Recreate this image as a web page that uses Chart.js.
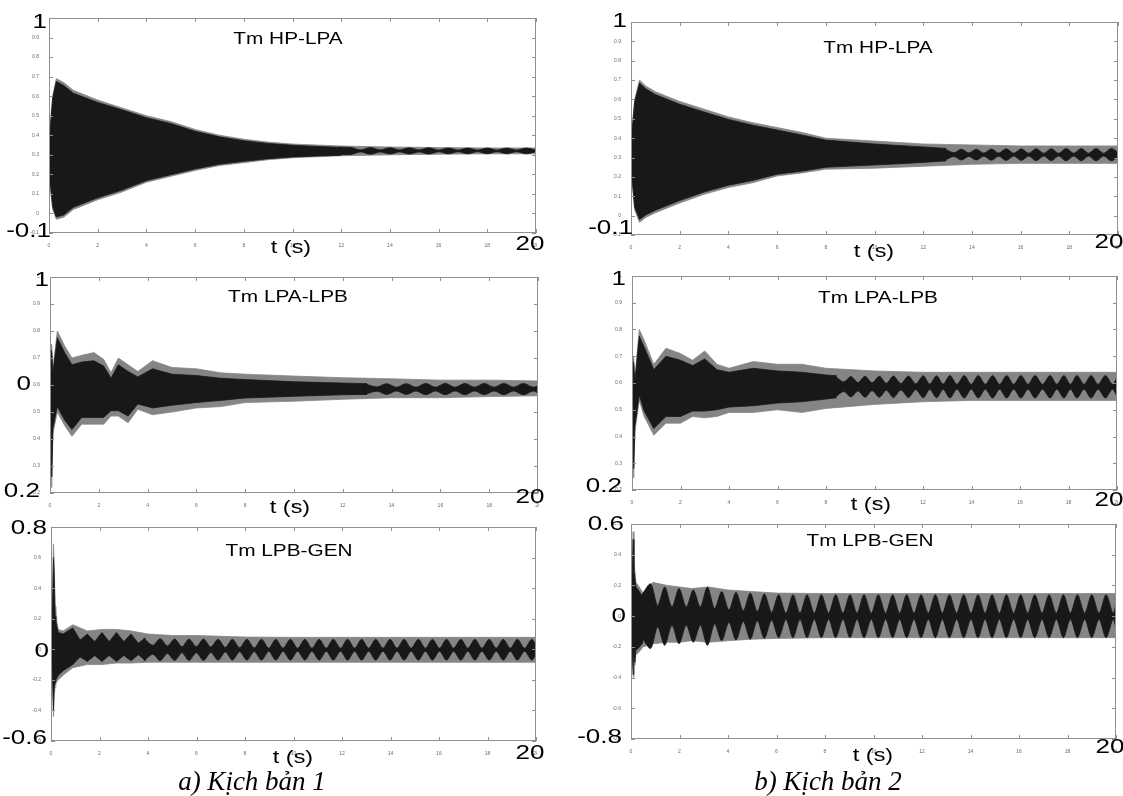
<!DOCTYPE html>
<html><head><meta charset="utf-8"><title>Tm</title>
<script src="https://cdn.jsdelivr.net/npm/chart.js@4.4.1/dist/chart.umd.min.js"></script>
<style>
html,body{margin:0;padding:0;background:#fff;}
body{width:1123px;height:796px;position:relative;overflow:hidden;font-family:"Liberation Sans",Arial,sans-serif;}
.box{position:absolute;}
.t{position:absolute;white-space:nowrap;line-height:1;color:#000;}
.cap{font-family:"Liberation Serif","Times New Roman",serif;font-style:italic;}
</style></head><body>
<script>
// ---------- shared axis ----------
const xMin = 0, xMax = 20, xStep = 2;

// ---------- Panel 1 : Tm HP-LPA, scenario 1 ----------
const p1EnvT  = [0, 0.05, 0.15, 0.3, 0.6, 1, 2, 3, 4, 5, 6, 7, 8, 9, 10, 12, 14, 16, 18, 20];
const p1EnvUp = [0.42, 0.45, 0.6, 0.69, 0.67, 0.63, 0.58, 0.54, 0.50, 0.47, 0.43, 0.40, 0.38, 0.365, 0.355, 0.345, 0.34, 0.337, 0.335, 0.335];
const p1EnvLo = [0.16, 0.14, 0.02, -0.03, -0.02, 0.02, 0.07, 0.11, 0.16, 0.19, 0.22, 0.245, 0.26, 0.275, 0.285, 0.295, 0.30, 0.303, 0.305, 0.305];
const p1CoreT  = [0, 0.05, 0.15, 0.3, 0.6, 1, 2, 3, 4, 5, 6, 7, 8, 9, 10, 11, 12];
const p1CoreUp = [0.41, 0.43, 0.59, 0.675, 0.655, 0.615, 0.568, 0.53, 0.49, 0.46, 0.42, 0.392, 0.372, 0.358, 0.349, 0.343, 0.338];
const p1CoreLo = [0.17, 0.16, 0.035, -0.018, -0.008, 0.032, 0.08, 0.12, 0.168, 0.198, 0.228, 0.252, 0.267, 0.28, 0.289, 0.294, 0.298];
const p1BeadMid = 0.32;
const p1BeadT = [11.9, 12.4, 12.8, 13.2, 13.6, 14.0, 14.4, 14.8, 15.2, 15.6, 16.0, 16.4, 16.8, 17.2, 17.6, 18.0, 18.4, 18.8, 19.2, 19.6, 20.0];
const p1BeadA = [0.019, 0.018, 0.005, 0.017, 0.005, 0.016, 0.005, 0.016, 0.005, 0.016, 0.004, 0.015, 0.004, 0.015, 0.004, 0.015, 0.004, 0.015, 0.004, 0.015, 0.004];

// ---------- Panel 2 : Tm HP-LPA, scenario 2 ----------
const p2EnvT  = [0, 0.05, 0.15, 0.35, 0.6, 1, 2, 3, 4, 5, 6, 7, 8, 10, 12, 14, 16, 18, 20];
const p2EnvUp = [0.44, 0.46, 0.6, 0.70, 0.67, 0.64, 0.59, 0.55, 0.51, 0.48, 0.455, 0.43, 0.40, 0.385, 0.37, 0.365, 0.36, 0.36, 0.36];
const p2EnvLo = [0.2, 0.17, 0.03, -0.035, -0.01, 0.015, 0.065, 0.11, 0.145, 0.17, 0.205, 0.22, 0.24, 0.245, 0.255, 0.265, 0.27, 0.27, 0.27];
const p2CoreT  = [0, 0.05, 0.15, 0.35, 0.6, 1, 2, 3, 4, 5, 6, 7, 8, 9, 10, 11, 12, 12.95];
const p2CoreUp = [0.43, 0.445, 0.585, 0.685, 0.655, 0.625, 0.575, 0.535, 0.497, 0.467, 0.442, 0.417, 0.39, 0.38, 0.37, 0.362, 0.355, 0.347];
const p2CoreLo = [0.21, 0.185, 0.045, -0.02, 0.003, 0.028, 0.078, 0.122, 0.157, 0.182, 0.214, 0.229, 0.25, 0.256, 0.262, 0.268, 0.275, 0.283];
const p2BeadMid = 0.315;
const p2BeadT = [12.85, 13.26, 13.57, 13.87, 14.18, 14.49, 14.8, 15.1, 15.41, 15.72, 16.03, 16.33,
                 16.64, 16.95, 17.26, 17.56, 17.87, 18.18, 18.49, 18.79, 19.1, 19.41, 19.72, 20.0];
const p2BeadA = [0.032, 0.01, 0.028, 0.009, 0.028, 0.008, 0.029, 0.008, 0.03, 0.007, 0.03, 0.007,
                 0.031, 0.007, 0.031, 0.007, 0.032, 0.007, 0.032, 0.007, 0.032, 0.007, 0.032, 0.012];

// ---------- Panel 3 : Tm LPA-LPB, scenario 1 ----------
const p3EnvT  = [0, 0.04, 0.07, 0.12, 0.3, 0.6, 0.9, 1.3, 1.8, 2.2, 2.5, 2.8, 3.2, 3.6, 4.2, 5, 6, 7, 8, 10, 12, 14, 16, 18, 20];
const p3EnvUp = [0.6, 0.75, 0.75, 0.66, 0.80, 0.745, 0.70, 0.71, 0.72, 0.695, 0.645, 0.70, 0.675, 0.65, 0.69, 0.665, 0.66, 0.645, 0.64, 0.633, 0.627, 0.623, 0.618, 0.618, 0.615];
const p3EnvLo = [0.58, 0.45, 0.22, 0.42, 0.50, 0.45, 0.41, 0.455, 0.455, 0.455, 0.485, 0.485, 0.46, 0.51, 0.49, 0.50, 0.515, 0.52, 0.535, 0.54, 0.547, 0.553, 0.553, 0.557, 0.56];
const p3CoreT  = [0, 0.04, 0.07, 0.12, 0.3, 0.6, 0.9, 1.3, 1.8, 2.2, 2.5, 2.8, 3.2, 3.6, 4.2, 5, 6, 7, 8, 10, 12, 13];
const p3CoreUp = [0.6, 0.73, 0.72, 0.645, 0.775, 0.72, 0.675, 0.685, 0.69, 0.67, 0.625, 0.675, 0.65, 0.63, 0.66, 0.64, 0.635, 0.625, 0.62, 0.612, 0.607, 0.605];
const p3CoreLo = [0.58, 0.47, 0.26, 0.44, 0.52, 0.47, 0.435, 0.48, 0.48, 0.48, 0.505, 0.505, 0.485, 0.53, 0.515, 0.525, 0.535, 0.543, 0.552, 0.558, 0.564, 0.565];
const p3BeadMid = 0.585;
const p3BeadT = [12.9, 13.4, 13.8, 14.2, 14.6, 15.0, 15.4, 15.8, 16.2, 16.6, 17.0, 17.4, 17.8, 18.2, 18.6, 19.0, 19.4, 19.8, 20.0];
const p3BeadA = [0.02, 0.008, 0.02, 0.007, 0.02, 0.007, 0.021, 0.007, 0.021, 0.007, 0.021, 0.007, 0.021, 0.007, 0.021, 0.007, 0.021, 0.007, 0.014];

// ---------- Panel 4 : Tm LPA-LPB, scenario 2 ----------
const p4EnvT  = [0, 0.04, 0.07, 0.12, 0.3, 0.5, 0.9, 1.4, 2, 2.5, 3, 3.5, 4, 5, 6, 7, 8, 10, 12, 14, 16, 18, 20];
const p4EnvUp = [0.6, 0.70, 0.70, 0.62, 0.80, 0.76, 0.67, 0.73, 0.71, 0.685, 0.72, 0.67, 0.655, 0.68, 0.67, 0.67, 0.655, 0.645, 0.64, 0.64, 0.64, 0.64, 0.64];
const p4EnvLo = [0.58, 0.4, 0.245, 0.42, 0.535, 0.475, 0.405, 0.45, 0.45, 0.475, 0.47, 0.475, 0.49, 0.49, 0.50, 0.49, 0.505, 0.52, 0.53, 0.535, 0.535, 0.535, 0.535];
const p4CoreT  = [0, 0.04, 0.07, 0.12, 0.3, 0.5, 0.9, 1.4, 2, 2.5, 3, 3.5, 4, 5, 6, 7, 8, 8.44];
const p4CoreUp = [0.6, 0.68, 0.67, 0.605, 0.775, 0.735, 0.65, 0.70, 0.685, 0.665, 0.69, 0.65, 0.64, 0.655, 0.645, 0.64, 0.63, 0.627];
const p4CoreLo = [0.58, 0.42, 0.28, 0.44, 0.555, 0.495, 0.43, 0.475, 0.475, 0.495, 0.495, 0.5, 0.51, 0.515, 0.525, 0.53, 0.54, 0.545];
const p4BeadMid = 0.586;
const p4BeadT = [8.36, 8.73, 9.03, 9.32, 9.61, 9.9, 10.2, 10.49, 10.78, 11.09,
                 11.4, 11.7, 12.01, 12.28, 12.56, 12.83, 13.11, 13.4, 13.7, 13.99,
                 14.28, 14.57, 14.87, 15.16, 15.45, 15.74, 16.04, 16.33, 16.62, 16.93,
                 17.24, 17.52, 17.81, 18.08, 18.35, 18.64, 18.93, 19.22, 19.52, 19.81, 20.0];
const p4BeadA = [0.041, 0.018, 0.038, 0.016, 0.039, 0.015, 0.039, 0.013, 0.04, 0.012,
                 0.04, 0.011, 0.041, 0.01, 0.041, 0.01, 0.042, 0.009, 0.042, 0.009,
                 0.042, 0.009, 0.042, 0.009, 0.042, 0.009, 0.042, 0.009, 0.042, 0.009,
                 0.042, 0.009, 0.042, 0.009, 0.042, 0.009, 0.042, 0.009, 0.042, 0.009, 0.035];

// ---------- Panel 5 : Tm LPB-GEN, scenario 1 ----------
const p5EnvT  = [0, 0.06, 0.1, 0.13, 0.17, 0.2, 0.3, 0.5, 0.9, 1.5, 2.1, 2.7, 3.3, 4, 5, 6, 7, 8, 10, 14, 20];
const p5EnvUp = [0.0, 0.3, 0.69, 0.58, 0.28, 0.22, 0.13, 0.12, 0.16, 0.12, 0.13, 0.13, 0.12, 0.10, 0.09, 0.09, 0.085, 0.08, 0.078, 0.078, 0.078];
const p5EnvLo = [0.0, -0.2, -0.44, -0.3, -0.25, -0.22, -0.2, -0.17, -0.12, -0.10, -0.10, -0.09, -0.09, -0.085, -0.085, -0.085, -0.085, -0.085, -0.085, -0.085, -0.085];
const p5CoreT  = [0, 0.06, 0.1, 0.13, 0.17, 0.2, 0.3, 0.5, 0.9, 1.2, 1.5, 1.8, 2.1, 2.4, 2.7, 3.0, 3.3, 3.6, 3.9];
const p5CoreUp = [0.0, 0.25, 0.6, 0.5, 0.22, 0.18, 0.11, 0.1, 0.14, 0.06, 0.1, 0.05, 0.11, 0.05, 0.11, 0.05, 0.1, 0.04, 0.075];
const p5CoreLo = [0.0, -0.15, -0.4, -0.25, -0.22, -0.2, -0.17, -0.14, -0.1, -0.05, -0.08, -0.04, -0.08, -0.04, -0.08, -0.04, -0.075, -0.035, -0.075];
const p5BeadMid = -0.003;
const p5BeadT = [3.82, 4.2, 4.5, 4.8, 5.1, 5.4, 5.69, 5.99, 6.29, 6.59, 6.89, 7.19, 7.48, 7.78,
                 8.08, 8.38, 8.68, 8.98, 9.27, 9.57, 9.87, 10.17, 10.47, 10.76, 11.06, 11.35, 11.64, 11.94,
                 12.23, 12.52, 12.81, 13.1, 13.39, 13.69, 13.98, 14.27, 14.56, 14.85, 15.15, 15.44, 15.73, 16.02,
                 16.31, 16.6, 16.9, 17.19, 17.48, 17.77, 18.07, 18.36, 18.65, 18.94, 19.23, 19.53, 19.82, 20.0];
const p5BeadA = [0.075, 0.03, 0.072, 0.025, 0.07, 0.02, 0.07, 0.02, 0.07, 0.018, 0.068, 0.015, 0.068, 0.013,
                 0.068, 0.012, 0.068, 0.01, 0.068, 0.01, 0.068, 0.01, 0.068, 0.01, 0.068, 0.01, 0.068, 0.01,
                 0.068, 0.01, 0.068, 0.01, 0.068, 0.01, 0.068, 0.01, 0.068, 0.01, 0.068, 0.01, 0.068, 0.01,
                 0.068, 0.01, 0.068, 0.01, 0.068, 0.01, 0.068, 0.01, 0.068, 0.01, 0.068, 0.01, 0.068, 0.03];

// ---------- Panel 6 : Tm LPB-GEN, scenario 2 ----------
const p6EnvT  = [0, 0.05, 0.09, 0.12, 0.16, 0.2, 0.3, 0.5, 0.9, 1.5, 2, 2.5, 3.2, 4, 5, 6, 8, 12, 16, 20];
const p6EnvUp = [0.0, 0.3, 0.55, 0.33, 0.3, 0.22, 0.2, 0.15, 0.22, 0.2, 0.19, 0.18, 0.19, 0.17, 0.16, 0.15, 0.147, 0.147, 0.147, 0.147];
const p6EnvLo = [0.0, -0.25, -0.4, -0.25, -0.32, -0.25, -0.24, -0.2, -0.18, -0.17, -0.17, -0.16, -0.17, -0.16, -0.15, -0.145, -0.14, -0.14, -0.14, -0.14];
const p6CoreT  = [0, 0.05, 0.09, 0.12, 0.16, 0.2, 0.3, 0.5];
const p6CoreUp = [0.0, 0.25, 0.5, 0.3, 0.25, 0.19, 0.17, 0.12];
const p6CoreLo = [0.0, -0.22, -0.38, -0.22, -0.3, -0.22, -0.21, -0.17];
const p6BeadMid = 0.0;
const p6BeadT = [0.45,
  0.81, 1.1, 1.39, 1.69, 1.98, 2.28, 2.57, 2.86, 3.15, 3.45, 3.74, 4.04, 4.33, 4.63, 4.92, 5.21, 5.5, 5.8,
  6.09, 6.39, 6.68, 6.97, 7.26, 7.56, 7.85, 8.15, 8.44, 8.74, 9.03, 9.32, 9.61, 9.91, 10.2, 10.5,
  10.79, 11.08, 11.37, 11.67, 11.96, 12.26, 12.55, 12.84, 13.13, 13.43, 13.72, 14.02, 14.31, 14.6,
  14.89, 15.19, 15.48, 15.78, 16.07, 16.36, 16.65, 16.95, 17.24, 17.54, 17.83, 18.12, 18.41, 18.71,
  19.0, 19.3, 19.59, 19.88, 20.0];
const p6BeadA = [0.14,
  0.21, 0.07, 0.19, 0.06, 0.18, 0.06, 0.17, 0.06, 0.19, 0.05, 0.16, 0.04, 0.155, 0.035, 0.15, 0.03, 0.145, 0.025,
  0.14, 0.02, 0.14, 0.02, 0.14, 0.02, 0.14, 0.02, 0.14, 0.02, 0.14, 0.02, 0.14, 0.02, 0.14, 0.02,
  0.14, 0.02, 0.14, 0.02, 0.14, 0.02, 0.14, 0.02, 0.14, 0.02, 0.14, 0.02, 0.14, 0.02,
  0.14, 0.02, 0.14, 0.02, 0.14, 0.02, 0.14, 0.02, 0.14, 0.02, 0.14, 0.02, 0.14, 0.02,
  0.14, 0.02, 0.14, 0.02, 0.08];

// ---------- drawing ----------
const GRAY = '#858585', BLACK = '#181818';

function pts(T, V) { const n = Math.min(T.length, V.length); const o = []; for (let i = 0; i < n; i++) o.push({x: T[i], y: V[i]}); return o; }
function beadPts(T, A, mid, sign) { const n = Math.min(T.length, A.length); const o = []; for (let i = 0; i < n; i++) o.push({x: T[i], y: mid + sign * A[i]}); return o; }
function ds(data, color, fill, tension) {
  return {data, borderColor: color, backgroundColor: color, borderWidth: 0.8, pointRadius: 0, fill, tension};
}
const fmt = v => String(+(+v).toFixed(2));

const framePlugin = {
  id: 'frame',
  afterDraw(chart) {
    const {ctx, chartArea: a, scales} = chart;
    const x = scales.x, y = scales.y;
    ctx.save();
    ctx.strokeStyle = '#8f8f8f'; ctx.lineWidth = 1;
    ctx.strokeRect(Math.round(a.left) + 0.5, Math.round(a.top) + 0.5, Math.round(a.right - a.left) - 1, Math.round(a.bottom - a.top) - 1);
    ctx.beginPath();
    x.ticks.forEach(t => {
      const px = Math.round(x.getPixelForValue(t.value)) + 0.5;
      ctx.moveTo(px, a.bottom); ctx.lineTo(px, a.bottom - 4);
      ctx.moveTo(px, a.top); ctx.lineTo(px, a.top + 4);
    });
    y.ticks.forEach(t => {
      const py = Math.round(y.getPixelForValue(t.value)) + 0.5;
      ctx.moveTo(a.left, py); ctx.lineTo(a.left + 4, py);
      ctx.moveTo(a.right, py); ctx.lineTo(a.right - 4, py);
    });
    ctx.stroke();
    ctx.restore();
  }
};

function makePanel(p) {
  const YW = 20, XH = 14, PR = 1;
  const w = p.r - p.l + YW + PR, h = p.b - p.t + XH;
  const div = document.createElement('div');
  div.className = 'box';
  div.style.left = (p.l - YW) + 'px'; div.style.top = p.t + 'px';
  div.style.width = w + 'px'; div.style.height = h + 'px';
  const c = document.createElement('canvas');
  c.width = w; c.height = h; c.style.width = w + 'px'; c.style.height = h + 'px';
  div.appendChild(c); document.body.appendChild(div);
  new Chart(c, {
    type: 'line',
    data: { datasets: [
      ds(beadPts(p.beadT, p.beadA, p.beadMid, 1), BLACK, '+1', 0.3),
      ds(beadPts(p.beadT, p.beadA, p.beadMid, -1), BLACK, false, 0.3),
      ds(pts(p.coreT, p.coreUp), BLACK, '+1', 0),
      ds(pts(p.coreT, p.coreLo), BLACK, false, 0),
      ds(pts(p.envT, p.envUp), GRAY, '+1', 0),
      ds(pts(p.envT, p.envLo), GRAY, false, 0)
    ]},
    options: {
      responsive: false, animation: false, devicePixelRatio: 1,
      layout: {padding: {left: 0, right: PR, top: 0, bottom: 0}},
      plugins: {legend: {display: false}, tooltip: {enabled: false}},
      scales: {
        x: {type: 'linear', min: xMin, max: xMax,
            grid: {display: false}, border: {display: false},
            ticks: {stepSize: xStep, autoSkip: false, maxRotation: 0, callback: fmt,
                    font: {size: 5, family: 'Liberation Sans'}, color: '#6a6a6a', padding: 2},
            afterFit(s) { s.height = XH; s.paddingLeft = 0; s.paddingRight = 0; }},
        y: {type: 'linear', min: p.yMin, max: p.yMax,
            grid: {display: false}, border: {display: false},
            ticks: {stepSize: p.yStep, autoSkip: false, callback: fmt,
                    font: {size: 5, family: 'Liberation Sans'}, color: '#6a6a6a', padding: 2},
            afterFit(s) { s.width = YW; s.paddingTop = 0; s.paddingBottom = 0; }}
      }
    },
    plugins: [framePlugin]
  });
}

const panels = [
  {l: 49, r: 536, t: 18, b: 233, yMin: -0.1, yMax: 1, yStep: 0.1,
   envT: p1EnvT, envUp: p1EnvUp, envLo: p1EnvLo, coreT: p1CoreT, coreUp: p1CoreUp, coreLo: p1CoreLo, beadT: p1BeadT, beadA: p1BeadA, beadMid: p1BeadMid},
  {l: 631, r: 1118, t: 22, b: 235, yMin: -0.1, yMax: 1, yStep: 0.1,
   envT: p2EnvT, envUp: p2EnvUp, envLo: p2EnvLo, coreT: p2CoreT, coreUp: p2CoreUp, coreLo: p2CoreLo, beadT: p2BeadT, beadA: p2BeadA, beadMid: p2BeadMid},
  {l: 50, r: 538, t: 277, b: 493, yMin: 0.2, yMax: 1, yStep: 0.1,
   envT: p3EnvT, envUp: p3EnvUp, envLo: p3EnvLo, coreT: p3CoreT, coreUp: p3CoreUp, coreLo: p3CoreLo, beadT: p3BeadT, beadA: p3BeadA, beadMid: p3BeadMid},
  {l: 632, r: 1117, t: 276, b: 490, yMin: 0.2, yMax: 1, yStep: 0.1,
   envT: p4EnvT, envUp: p4EnvUp, envLo: p4EnvLo, coreT: p4CoreT, coreUp: p4CoreUp, coreLo: p4CoreLo, beadT: p4BeadT, beadA: p4BeadA, beadMid: p4BeadMid},
  {l: 51, r: 536, t: 527, b: 741, yMin: -0.6, yMax: 0.8, yStep: 0.2,
   envT: p5EnvT, envUp: p5EnvUp, envLo: p5EnvLo, coreT: p5CoreT, coreUp: p5CoreUp, coreLo: p5CoreLo, beadT: p5BeadT, beadA: p5BeadA, beadMid: p5BeadMid},
  {l: 631, r: 1116, t: 524, b: 739, yMin: -0.8, yMax: 0.6, yStep: 0.2,
   envT: p6EnvT, envUp: p6EnvUp, envLo: p6EnvLo, coreT: p6CoreT, coreUp: p6CoreUp, coreLo: p6CoreLo, beadT: p6BeadT, beadA: p6BeadA, beadMid: p6BeadMid}
];
panels.forEach(makePanel);

// ---------- text ----------
function label(text, x, y, size, anchor, sx, cls) {
  const d = document.createElement('div');
  d.className = 't' + (cls ? ' ' + cls : '');
  d.textContent = text;
  d.style.fontSize = size + 'px';
  d.style.left = x + 'px'; d.style.top = y + 'px';
  const ax = anchor === 'right' ? '-100%' : '-50%';
  d.style.transformOrigin = anchor === 'right' ? 'right center' : 'center center';
  d.style.transform = 'translate(' + ax + ',-50%) scaleX(' + (sx || 1) + ')';
  document.body.appendChild(d);
}
const NS = 20, SX = 1.3, TS = 16, LS = 18;
const bigLabels = [
  ['1', 47, 21, 'right'], ['-0.1', 51, 230, 'right'], ['t (s)', 291, 247, 'c'], ['20', 530, 243, 'c'],
  ['1', 627, 20, 'right'], ['-0.1', 633, 227, 'right'], ['t (s)', 874, 251, 'c'], ['20', 1109, 241, 'c'],
  ['1', 49, 279, 'right'], ['0', 31, 383, 'right'], ['0.2', 40, 490, 'right'], ['t (s)', 290, 507, 'c'], ['20', 530, 496, 'c'],
  ['1', 626, 278, 'right'], ['0.2', 622, 485, 'right'], ['t (s)', 871, 504, 'c'], ['20', 1109, 499, 'c'],
  ['0.8', 47, 527, 'right'], ['0', 49, 650, 'right'], ['-0.6', 47, 737, 'right'], ['t (s)', 293, 757, 'c'], ['20', 530, 752, 'c'],
  ['0.6', 624, 523, 'right'], ['0', 626, 615, 'right'], ['-0.8', 622, 736, 'right'], ['t (s)', 873, 755, 'c'], ['20', 1110, 746, 'c']
];
bigLabels.forEach(b => label(b[0], b[1], b[2], b[0] === 't (s)' ? LS : NS, b[3], SX));
const titles = [
  ['Tm HP-LPA', 288, 39], ['Tm HP-LPA', 878, 48],
  ['Tm LPA-LPB', 288, 297], ['Tm LPA-LPB', 878, 298],
  ['Tm LPB-GEN', 289, 551], ['Tm LPB-GEN', 870, 541]
];
titles.forEach(tt => label(tt[0], tt[1], tt[2], TS, 'c', SX));
label('a) Kịch bản 1', 252, 781, 27, 'c', 1, 'cap');
label('b) Kịch bản 2', 828, 781, 27, 'c', 1, 'cap');
</script>
</body></html>
